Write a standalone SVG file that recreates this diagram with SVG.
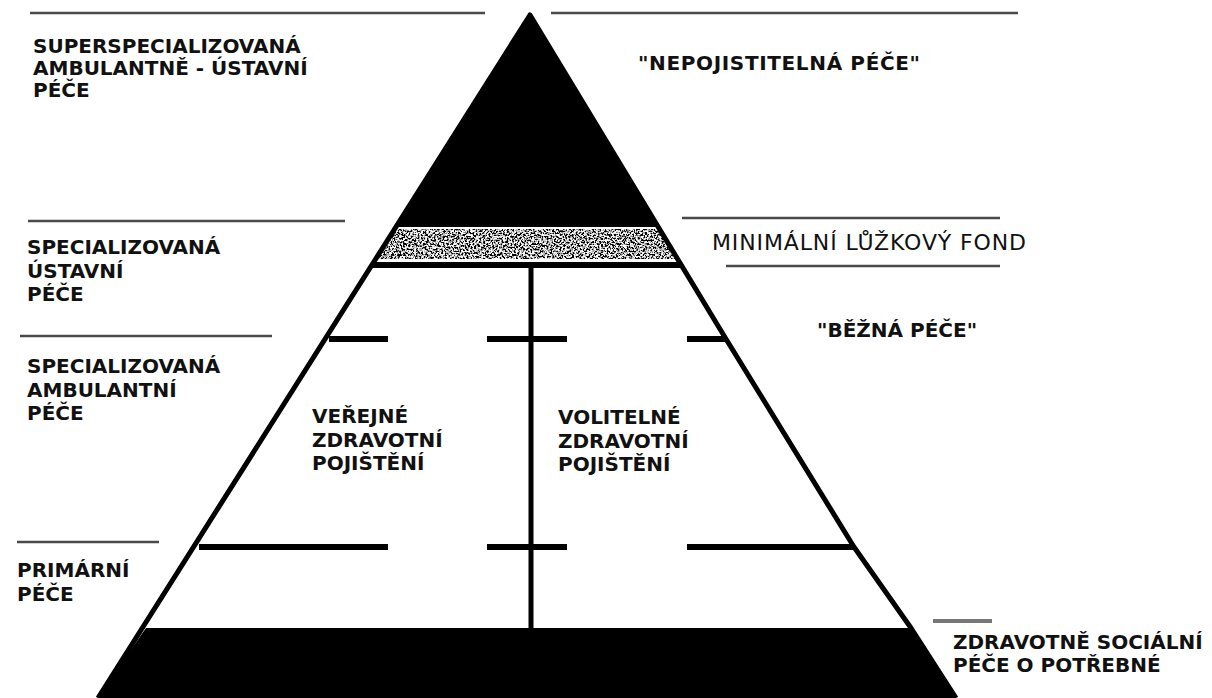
<svg xmlns="http://www.w3.org/2000/svg" width="1212" height="698" viewBox="0 0 1212 698">
  <style>
    .lbl { font-family: "DejaVu Sans", Verdana, sans-serif; font-size: 20px; font-weight: bold; fill: #111; }
    .reg { font-family: "DejaVu Sans", Verdana, sans-serif; font-size: 22px; font-weight: normal; fill: #111; }
    .sep { stroke: #4a4a4a; stroke-width: 2.5; fill: none; }
    .edge { stroke: #000; stroke-width: 5; fill: none; stroke-linejoin: round; }
    .bar { stroke: #000; stroke-width: 6; fill: none; }
    .solid { fill: #000; stroke: none; }
  </style>
  <defs>
    <filter id="noise" x="0" y="0" width="100%" height="100%" filterUnits="objectBoundingBox">
      <feTurbulence type="fractalNoise" baseFrequency="0.55" numOctaves="3" seed="7" result="t"/>
      <feColorMatrix in="t" type="matrix" values="5 0 0 0 -2.1  5 0 0 0 -2.1  5 0 0 0 -2.1  0 0 0 0 1" result="g"/>
      <feComposite in="g" in2="SourceGraphic" operator="in"/>
    </filter>
  </defs>
  <rect width="1212" height="698" fill="#fff"/>

  <g id="pyramid">
    <polygon class="solid" points="530,15 396,227 658,227"/>
    <polygon points="397,229 657,229 677,259 377,259" fill="#000" filter="url(#noise)"/>
    <polygon class="solid" points="146,628 910,628 957,700 96,700"/>
    <polyline class="edge" points="98,698 530,15 726,339 854,547 911,628 956,698"/>
    <line class="bar" x1="372" y1="265" x2="682" y2="265"/>
    <line x1="531" y1="263" x2="531" y2="630" stroke="#000" stroke-width="5"/>
  </g>

  <g id="connectors">
    <line class="sep" x1="30" y1="13" x2="485" y2="13" stroke-width="3"/>
    <line class="sep" x1="551" y1="13" x2="1018" y2="13" stroke-width="3"/>
    <line class="sep" x1="28" y1="221" x2="345" y2="221"/>
    <line class="sep" x1="682" y1="218" x2="1000" y2="218"/>
    <line class="sep" x1="726" y1="266" x2="1000" y2="266"/>
    <line class="sep" x1="20" y1="336" x2="272" y2="336"/>
    <line class="sep" x1="17" y1="542" x2="159" y2="542"/>
    <line x1="933" y1="621" x2="992" y2="621" stroke="#777" stroke-width="4"/>
    <line class="bar" x1="329" y1="339" x2="388" y2="339"/>
    <line class="bar" x1="487" y1="339" x2="567" y2="339"/>
    <line class="bar" x1="687" y1="339" x2="727" y2="339"/>
    <line class="bar" x1="199" y1="547" x2="388" y2="547"/>
    <line class="bar" x1="487" y1="547" x2="567" y2="547"/>
    <line class="bar" x1="687" y1="547" x2="855" y2="547"/>
  </g>

  <g id="superspec">
    <text class="lbl" x="33" y="53">SUPERSPECIALIZOVANÁ</text>
    <text class="lbl" x="33" y="75">AMBULANTNĚ - ÚSTAVNÍ</text>
    <text class="lbl" x="33" y="97">PÉČE</text>
  </g>
  <g id="nepojistitelna">
    <text class="lbl" x="638" y="70" textLength="282" lengthAdjust="spacing">"NEPOJISTITELNÁ PÉČE"</text>
  </g>
  <g id="spec-ustavni">
    <text class="lbl" x="27" y="254">SPECIALIZOVANÁ</text>
    <text class="lbl" x="27" y="278">ÚSTAVNÍ</text>
    <text class="lbl" x="27" y="301">PÉČE</text>
  </g>
  <g id="luzkovy-fond">
    <text class="reg" x="712" y="250" textLength="314" lengthAdjust="spacing">MINIMÁLNÍ LŮŽKOVÝ FOND</text>
  </g>
  <g id="bezna">
    <text class="lbl" x="817" y="337">"BĚŽNÁ PÉČE"</text>
  </g>
  <g id="spec-ambulantni">
    <text class="lbl" x="27" y="373">SPECIALIZOVANÁ</text>
    <text class="lbl" x="27" y="397">AMBULANTNÍ</text>
    <text class="lbl" x="27" y="420">PÉČE</text>
  </g>
  <g id="verejne">
    <text class="lbl" x="312" y="423">VEŘEJNÉ</text>
    <text class="lbl" x="312" y="447">ZDRAVOTNÍ</text>
    <text class="lbl" x="312" y="470">POJIŠTĚNÍ</text>
  </g>
  <g id="volitelne">
    <text class="lbl" x="558" y="424">VOLITELNÉ</text>
    <text class="lbl" x="558" y="448">ZDRAVOTNÍ</text>
    <text class="lbl" x="558" y="471">POJIŠTĚNÍ</text>
  </g>
  <g id="primarni">
    <text class="lbl" x="17" y="577">PRIMÁRNÍ</text>
    <text class="lbl" x="17" y="601">PÉČE</text>
  </g>
  <g id="socialni">
    <text class="lbl" x="953" y="649">ZDRAVOTNĚ SOCIÁLNÍ</text>
    <text class="lbl" x="953" y="672">PÉČE O POTŘEBNÉ</text>
  </g>
</svg>
